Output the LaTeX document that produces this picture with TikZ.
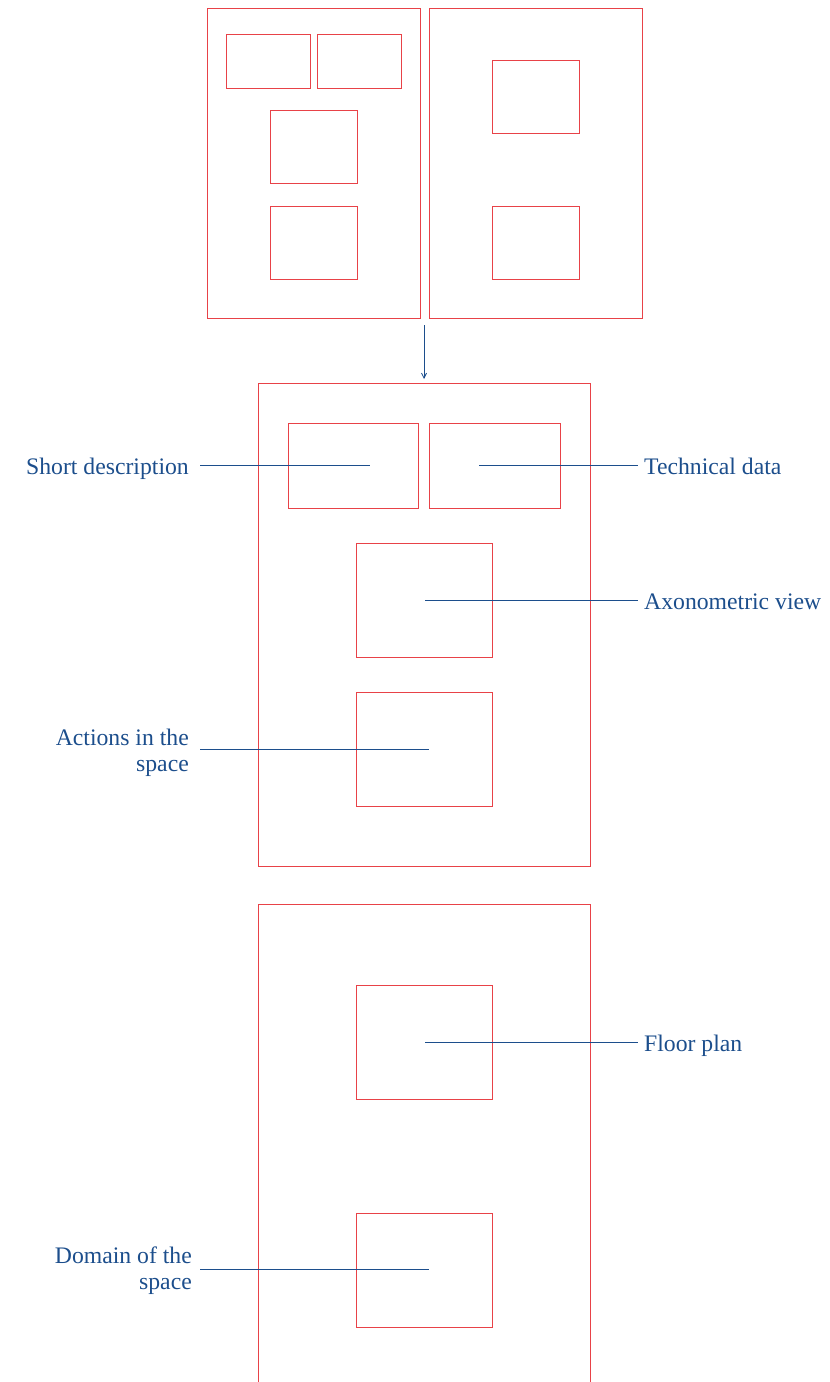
\documentclass[tikz,border=0pt]{standalone}
\usepackage{fontspec}
\setmainfont{Liberation Serif}
\usetikzlibrary{arrows.meta}
\definecolor{fr}{RGB}{232,66,72}
\definecolor{bl}{RGB}{28,78,140}
\tikzset{
  frame/.style={draw=fr, line width=0.9pt, fill=none, inner sep=0pt, outer sep=0pt},
  lbl/.style={text=bl, font=\fontsize{23.7}{26}\selectfont, inner sep=0pt, align=right},
  lblr/.style={text=bl, font=\fontsize{23.7}{26}\selectfont, inner sep=0pt, anchor=base west},
  lead/.style={draw=bl, line width=0.9pt},
}
\begin{document}
\begin{tikzpicture}[x=1pt,y=-1pt]
\clip (0,0) rectangle (830,1382);
% top pages
\node[frame, minimum width=213, minimum height=310, anchor=north west] (pageL) at (207,8) {};
\node[frame, minimum width=213, minimum height=310, anchor=north west] (pageR) at (429,8) {};
\node[frame, minimum width=84, minimum height=54, anchor=north west] (tl1) at (226,34) {};
\node[frame, minimum width=84, minimum height=54, anchor=north west] (tl2) at (317,34) {};
\node[frame, minimum width=87, minimum height=73, anchor=north west] (tl3) at (270,110) {};
\node[frame, minimum width=87, minimum height=73, anchor=north west] (tl4) at (270,206) {};
\node[frame, minimum width=87, minimum height=73, anchor=north west] (tr1) at (492,60) {};
\node[frame, minimum width=87, minimum height=73, anchor=north west] (tr2) at (492,206) {};
% arrow
\coordinate (astart) at (424,325);
% middle frame
\node[frame, minimum width=332, minimum height=483, anchor=north west] (mid) at (258,383) {};
\node[frame, minimum width=130, minimum height=85, anchor=north west] (sd) at (288,423) {};
\node[frame, minimum width=131, minimum height=85, anchor=north west] (td) at (429,423) {};
\node[frame, minimum width=136, minimum height=114, anchor=north west] (ax) at (356,543) {};
\node[frame, minimum width=136, minimum height=114, anchor=north west] (ac) at (356,692) {};
\draw[bl, line width=0.8pt, -{Straight Barb[length=5pt,width=5pt]}] (astart) -- ([yshift=4pt]mid.north -| astart);
% bottom frame
\node[frame, minimum width=332, minimum height=520, anchor=north west] (bot) at (258,904) {};
\node[frame, minimum width=136, minimum height=114, anchor=north west] (fp) at (356,985) {};
\node[frame, minimum width=136, minimum height=114, anchor=north west] (dom) at (356,1213) {};
% labels
\node[lbl, anchor=base east] (Lsd) at (189,474) {Short description};
\node[lblr] (Ltd) at (644,474) {Technical data};
\node[lblr] (Lax) at (644,609) {Axonometric view};
\node[lbl, anchor=east] (Lac) at (189,753) {Actions in the\\space};
\node[lblr] (Lfp) at (644,1051) {Floor plan};
\node[lbl, anchor=east] (Ldom) at (192,1271) {Domain of the\\space};
% leader lines
\coordinate (e1) at (370,465);
\coordinate (e2) at (479,465);
\coordinate (e3) at (425,600);
\coordinate (e4) at (429,749);
\coordinate (e5) at (425,1042);
\coordinate (e6) at (429,1269);
\draw[lead] (Lsd.east |- e1) ++(11,0) -- (e1);
\draw[lead] (e2) -- ([xshift=-6pt]Ltd.west |- e2);
\draw[lead] (e3) -- ([xshift=-6pt]Lax.west |- e3);
\draw[lead] (Lac.east |- e4) ++(11,0) -- (e4);
\draw[lead] (e5) -- ([xshift=-6pt]Lfp.west |- e5);
\draw[lead] (Ldom.east |- e6) ++(8,0) -- (e6);
\end{tikzpicture}
\end{document}
